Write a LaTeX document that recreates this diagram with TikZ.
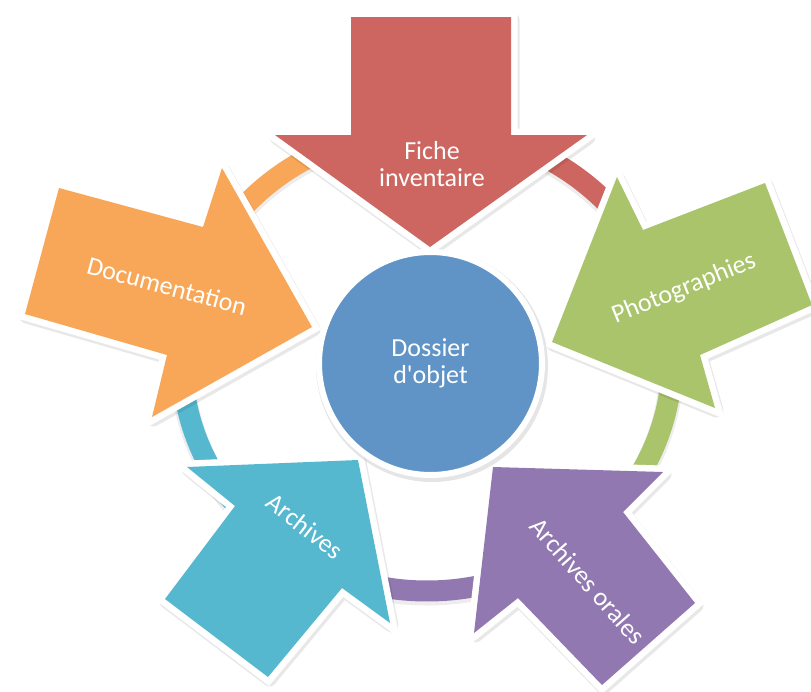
\documentclass[tikz,border=0pt]{standalone}
\usepackage{fontspec}
\setmainfont{Carlito}
\usepackage{tikz}
\definecolor{ficheRed}{HTML}{CD6660}
\definecolor{photoGreen}{HTML}{AAC46C}
\definecolor{oralPurple}{HTML}{9178B0}
\definecolor{archCyan}{HTML}{56B8CF}
\definecolor{docOrange}{HTML}{F8A758}
\definecolor{dossierBlue}{HTML}{6094C7}

\begin{document}
\begin{tikzpicture}[x=1pt, y=-1pt,
  ring/.style={line width=21pt},
  shade/.style={fill=black, draw=black, fill opacity=0.09, draw opacity=0.09, line width=14pt, line join=round},
  rim/.style={fill=white, draw=white, line width=13pt, line join=miter},
  lbl/.style={text=white, font=\fontsize{26}{26.5}\selectfont, align=center, inner sep=0pt}]
\clip (0,0) rectangle (811,691);
\draw[black, opacity=0.07, line width=24pt] (427,362.5) ellipse[x radius=245, y radius=231];
\foreach \col/\s/\e in {ficheRed/-90/-16, photoGreen/-16/54, oralPurple/54/127, archCyan/127/196, docOrange/196/270}
  \draw[ring, \col] (427,360) ++(\s:245 and 231) arc[start angle=\s, end angle=\e, x radius=245, y radius=231];
\foreach \col/\pts in {
  ficheRed/{(351,17) -- (511,17) -- (511,135) -- (587,135) -- (430,247) -- (275,135) -- (351,135)},
  docOrange/{(59,188) -- (203,227) -- (222,168) -- (312,327) -- (152,417) -- (167,355) -- (25,314)},
  photoGreen/{(617,177) -- (643,230) -- (765,183) -- (812,305) -- (700,355) -- (715,408) -- (552,342)},
  archCyan/{(358,460) -- (390,623) -- (342,588) -- (268,677) -- (165,599) -- (235,506) -- (187,467)},
  oralPurple/{(493,467) -- (663,472) -- (623,512) -- (695,603) -- (602,685) -- (518,598) -- (474,633)}}
{
  \path[shade, shift={(1.5,2.5)}] \pts -- cycle;
  \path[rim] \pts -- cycle;
  \fill[\col] \pts -- cycle;
}
\fill[black, opacity=0.1] (432,366) circle[radius=116];
\node[lbl, circle, fill=dossierBlue, draw=white, line width=6pt, minimum size=223pt] (dossier) at (430.5,363.5) {Dossier\\d\textquotesingle objet};
\node[lbl] (fiche) at (432,164) {Fiche\\inventaire};
\node[lbl, rotate=-15] (docu) at (167,286) {Documentation};
\node[lbl, rotate=22] (photo) at (684,289) {Photographies};
\node[lbl, rotate=-38] (arch) at (305,526) {Archives};
\node[lbl, rotate=-48.5] (oral) at (588,581) {Archives orales};
\end{tikzpicture}
\end{document}
